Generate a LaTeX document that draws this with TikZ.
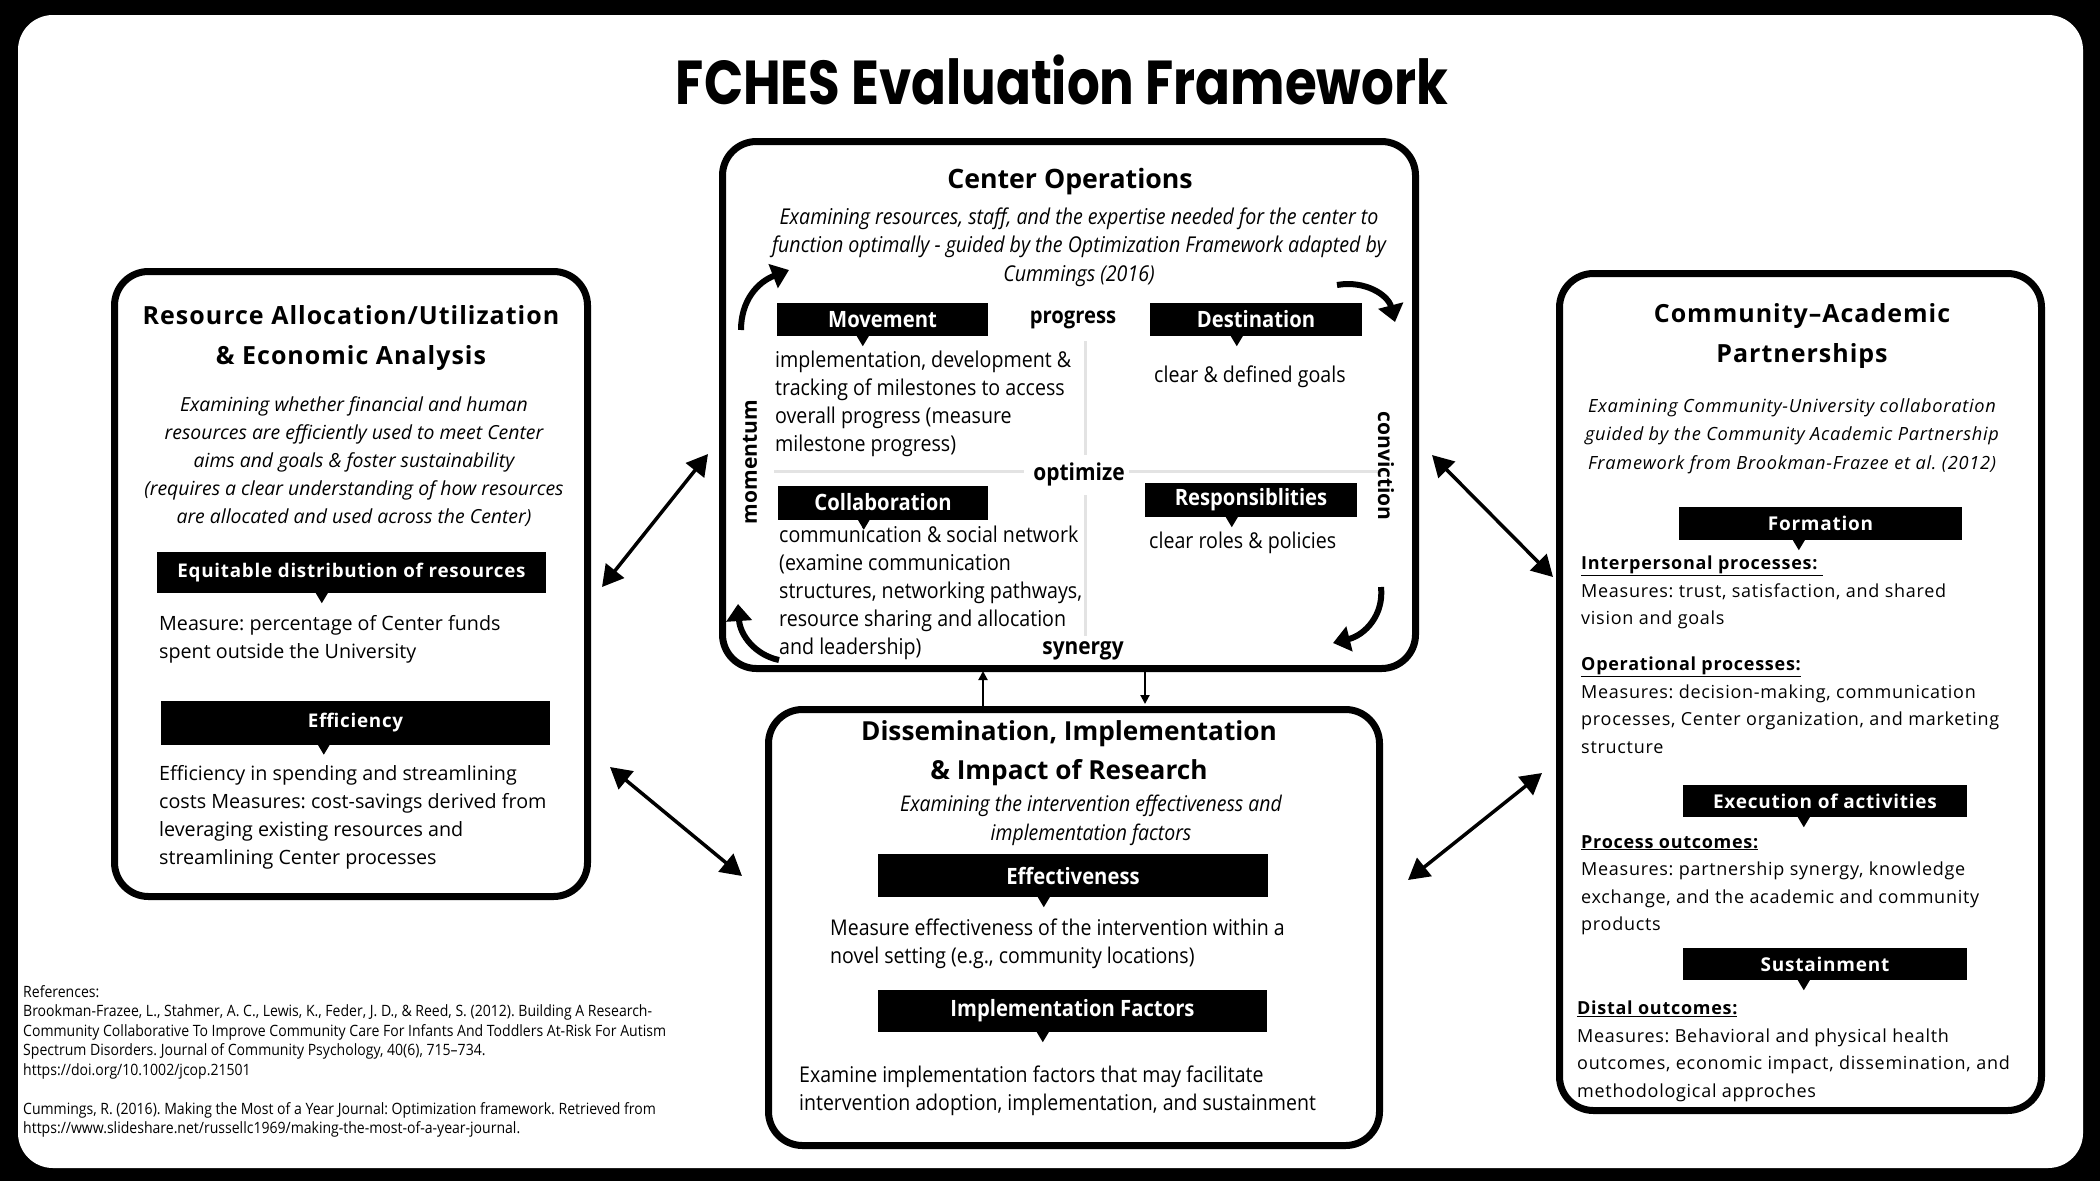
\documentclass[tikz,border=0pt]{standalone}
\usepackage{fontspec}
\setmainfont{Open Sans}
\newfontfamily\condfont{Open Sans}[FakeStretch=0.9]
\newfontfamily\widefont{Open Sans}[LetterSpace=4]
\newfontfamily\headfont{Poppins}[FakeStretch=0.83]
\usetikzlibrary{arrows.meta}
\frenchspacing

\definecolor{gridgrey}{HTML}{E3E3E3}

\tikzset{
  panel/.style={draw, line width=7pt, rounded corners=34pt, inner sep=0pt},
  tagbox/.style={fill=black, text=white, inner sep=0pt},
  linkarrow/.style={line width=3.5pt, {Triangle[length=21pt,width=23pt]}-{Triangle[length=21pt,width=23pt]}},
  cyclearrow/.style={line width=6pt, -{Triangle[length=17pt,width=25pt]}},
  minorarrow/.style={line width=2pt, -{Triangle[length=9pt,width=9pt]}},
  gridline/.style={line width=3pt, gridgrey},
}

% pointer under a black tag: node name, offset from its left edge
\newcommand{\tagtip}[2]{\fill ([xshift=#2]#1.south west) ++(-6,0) -- ++(12,0) -- ++(-6,10) -- cycle;}

\begin{document}
\begin{tikzpicture}[x=1pt,y=1pt,yscale=-1,xscale=1]
\useasboundingbox (0,0) rectangle (2100,1181);

%Shape: Rectangle [id:background]
\fill (0,0) rectangle (2100,1181);
%Shape: Rounded Rect [id:sheet]
\fill [white, rounded corners=35pt] (18,15) rectangle (2083,1168);

% Text Node
\draw (1062,80) node [inner sep=0pt, font=\headfont\bfseries\fontsize{62}{66}\selectfont] (title) {FCHES Evaluation Framework};

%Shape: Panels
\draw (351,584) node [panel, minimum width=473pt, minimum height=625pt] (res) {};
\draw (1069,405) node [panel, minimum width=693pt, minimum height=527pt] (ops) {};
\draw (1074,927.5) node [panel, minimum width=611pt, minimum height=436pt] (dis) {};
\draw (1800.5,692) node [panel, minimum width=482pt, minimum height=837pt] (cap) {};

%%% Resource Allocation panel
% Text Node
\draw (351,338) node [inner sep=0pt, align=center, font=\widefont\bfseries\fontsize{25}{40}\selectfont] (restitle) {Resource Allocation/Utilization\\\& Economic Analysis};
% Text Node
\draw (354,462) node [inner sep=0pt, align=center, font=\itshape\fontsize{19.4}{28}\selectfont] (resdesc) {Examining whether financial and human\\resources are efficiently used to meet Center\\aims and goals \& foster sustainability\\(requires a clear understanding of how resources\\are allocated and used across the Center)};
%Shape: Tags
\draw (351.5,572.5) node [tagbox, minimum width=389pt, minimum height=41pt, font=\widefont\bfseries\fontsize{18.8}{20}\selectfont] (eqd) {Equitable distribution of resources};
\tagtip{eqd}{165pt}
\draw (355.5,722.5) node [tagbox, minimum width=389pt, minimum height=44pt, font=\widefont\bfseries\fontsize{18.8}{20}\selectfont] (eff) {Efficiency};
\tagtip{eff}{163pt}
% Text Node
\draw (159,639) node [anchor=west, inner sep=0pt, align=left, font=\fontsize{19.7}{28}\selectfont] (eqdtext) {Measure: percentage of Center funds\\spent outside the University};
% Text Node
\draw (159,817) node [anchor=west, inner sep=0pt, align=left, font=\fontsize{19.7}{28}\selectfont] (efftext) {Efficiency in spending and streamlining\\costs Measures: cost-savings derived from\\leveraging existing resources and\\streamlining Center processes};

%%% Center Operations panel
% Text Node
\draw (1070,182) node [inner sep=0pt, font=\bfseries\fontsize{26.7}{30}\selectfont] (opstitle) {Center Operations};
% Text Node
\draw (1079,247) node [inner sep=0pt, align=center, font=\condfont\itshape\fontsize{21.8}{28.5}\selectfont] (opsdesc) {Examining resources, staff, and the expertise needed for the center to\\function optimally - guided by the Optimization Framework adapted by\\Cummings (2016)};
%Straight Lines [id:grid]
\draw [gridline] (1085,341) -- (1085,455);
\draw [gridline] (1085,495) -- (1085,636);
\draw [gridline] (774,471) -- (1024,471);
\draw [gridline] (1129,471) -- (1379,471);
%Shape: Tags
\draw (882.5,319.5) node [tagbox, minimum width=211pt, minimum height=33pt, font=\condfont\bfseries\fontsize{22.5}{24}\selectfont] (mov) {Movement};
\tagtip{mov}{86pt}
\draw (1256,319.5) node [tagbox, minimum width=212pt, minimum height=33pt, font=\condfont\bfseries\fontsize{22.5}{24}\selectfont] (dst) {Destination};
\tagtip{dst}{87pt}
\draw (883,502.5) node [tagbox, minimum width=210pt, minimum height=34pt, font=\condfont\bfseries\fontsize{22.5}{24}\selectfont] (col) {Collaboration};
\tagtip{col}{86pt}
\draw (1251,500) node [tagbox, minimum width=212pt, minimum height=34pt, font=\condfont\bfseries\fontsize{22.5}{24}\selectfont] (rsp) {Responsiblities};
\tagtip{rsp}{87pt}
% Text Node
\draw (775,404) node [anchor=west, inner sep=0pt, align=left, font=\condfont\fontsize{21.8}{28}\selectfont] (movtext) {implementation, development \&\\tracking of milestones to access\\overall progress (measure\\milestone progress)};
% Text Node
\draw (1154,377) node [anchor=west, inner sep=0pt, font=\condfont\fontsize{21.8}{28}\selectfont] (dsttext) {clear \& defined goals};
% Text Node
\draw (779,593) node [anchor=west, inner sep=0pt, align=left, font=\condfont\fontsize{21.8}{28}\selectfont] (coltext) {communication \& social network\\(examine communication\\structures, networking pathways,\\resource sharing and allocation\\and leadership)};
% Text Node
\draw (1149,543) node [anchor=west, inner sep=0pt, font=\condfont\fontsize{21.8}{28}\selectfont] (rsptext) {clear roles \& policies};
% Text Node
\draw (1073,320) node [inner sep=0pt, font=\condfont\bfseries\fontsize{22.5}{24}\selectfont] (progress) {progress};
\draw (1079,474) node [inner sep=0pt, font=\condfont\bfseries\fontsize{23.3}{24}\selectfont] (optimize) {optimize};
\draw (1083,651) node [inner sep=0pt, font=\condfont\bfseries\fontsize{23.2}{24}\selectfont] (synergy) {synergy};
\draw (750,462) node [inner sep=0pt, rotate=90, font=\bfseries\fontsize{21}{24}\selectfont] (momentum) {momentum};
\draw (1386,466) node [inner sep=0pt, rotate=-90, font=\bfseries\fontsize{21}{24}\selectfont] (conviction) {conviction};
%Curve Lines [id:cycle]
\draw [cyclearrow] (741,330) .. controls (741,300) and (758,282) .. (789,270);
\draw [cyclearrow] (1337,285) .. controls (1365,280) and (1388,295) .. (1395,322);
\draw [cyclearrow] (1381,587) .. controls (1384,615) and (1365,635) .. (1333,643);
\draw [cyclearrow] (779,660) .. controls (755,655) and (740,635) .. (738,604);

%%% Dissemination panel
% Text Node
\draw (1069,753.5) node [inner sep=0pt, align=center, font=\bfseries\fontsize{26.2}{39}\selectfont] (distitle) {Dissemination, Implementation\\\& Impact of Research};
% Text Node
\draw (1091,820.5) node [inner sep=0pt, align=center, font=\condfont\itshape\fontsize{21.6}{28.5}\selectfont] (disdesc) {Examining the intervention effectiveness and\\implementation factors};
%Shape: Tags
\draw (1073,875.5) node [tagbox, minimum width=390pt, minimum height=43pt, font=\condfont\bfseries\fontsize{22.5}{24}\selectfont] (effv) {Effectiveness};
\tagtip{effv}{166pt}
\draw (1072.5,1011) node [tagbox, minimum width=389pt, minimum height=42pt, font=\condfont\bfseries\fontsize{22.5}{24}\selectfont] (impf) {Implementation Factors};
\tagtip{impf}{165pt}
% Text Node
\draw (830,944) node [anchor=west, inner sep=0pt, align=left, font=\condfont\fontsize{21.7}{28}\selectfont] (effvtext) {Measure effectiveness of the intervention within a\\novel setting (e.g., community locations)};
% Text Node
\draw (799,1091) node [anchor=west, inner sep=0pt, align=left, font=\condfont\fontsize{21.7}{28}\selectfont] (impftext) {Examine implementation factors that may facilitate\\intervention adoption, implementation, and sustainment};

%%% Community-Academic panel
% Text Node
\draw (1802,336) node [inner sep=0pt, align=center, font=\widefont\bfseries\fontsize{25}{40}\selectfont] (captitle) {Community–Academic\\Partnerships};
% Text Node
\draw (1792,436) node [inner sep=0pt, align=center, font=\widefont\itshape\fontsize{18.2}{28.5}\selectfont] (capdesc) {Examining Community-University collaboration\\guided by the Community Academic Partnership\\Framework from Brookman-Frazee et al. (2012)};
%Shape: Tags
\draw (1820.5,523.5) node [tagbox, minimum width=283pt, minimum height=33pt, font=\widefont\bfseries\fontsize{19}{20}\selectfont] (frm) {Formation};
\tagtip{frm}{120pt}
\draw (1825,801) node [tagbox, minimum width=284pt, minimum height=32pt, font=\widefont\bfseries\fontsize{19}{20}\selectfont] (exe) {Execution of activities};
\tagtip{exe}{121pt}
\draw (1825,964) node [tagbox, minimum width=284pt, minimum height=32pt, font=\widefont\bfseries\fontsize{19}{20}\selectfont] (sus) {Sustainment};
\tagtip{sus}{121pt}
% Text Node
\draw (1581,592.5) node [anchor=west, inner sep=0pt, align=left, font=\widefont\fontsize{18}{27.5}\selectfont] (interp) {\textbf{\underline{Interpersonal processes:\ }}\\Measures: trust, satisfaction, and shared\\vision and goals};
% Text Node
\draw (1581,705) node [anchor=west, inner sep=0pt, align=left, font=\widefont\fontsize{18}{27.5}\selectfont] (operat) {\textbf{\underline{Operational processes:}}\\Measures: decision-making, communication\\processes, Center organization, and marketing\\structure};
% Text Node
\draw (1581,885) node [anchor=west, inner sep=0pt, align=left, font=\widefont\fontsize{18}{27.5}\selectfont] (procout) {\textbf{\underline{Process outcomes:}}\\Measures: partnership synergy, knowledge\\exchange, and the academic and community\\products};
% Text Node
\draw (1577,1051.5) node [anchor=west, inner sep=0pt, align=left, font=\widefont\fontsize{18}{27.5}\selectfont] (distal) {\textbf{\underline{Distal outcomes:}}\\Measures: Behavioral and physical health\\outcomes, economic impact, dissemination, and\\methodological approches};

%%% Links between panels
\coordinate (resA) at (602,587);
\coordinate (opsA) at (708,454);
\coordinate (resB) at (610,767);
\coordinate (disB) at (742,876);
\coordinate (opsC) at (1432,455);
\coordinate (capC) at (1553,577);
\coordinate (capD) at (1542,773);
\coordinate (disD) at (1408,880);
\coordinate (upx) at (983,0);
\coordinate (downx) at (1145,0);
%Straight Lines [id:links]
\draw [linkarrow] (resA) -- (opsA);
\draw [linkarrow] (resB) -- (disB);
\draw [linkarrow] (opsC) -- (capC);
\draw [linkarrow] (capD) -- (disD);
\draw [minorarrow] (dis.north -| upx) -- ([yshift=-1pt]ops.south -| upx);
\draw [minorarrow] (ops.south -| downx) -- ([yshift=-2pt]dis.north -| downx);

% Text Node
\draw (23,1061.5) node [anchor=west, inner sep=0pt, align=left, font=\condfont\fontsize{15.6}{19.5}\selectfont] (refs) {References:\\Brookman-Frazee, L., Stahmer, A. C., Lewis, K., Feder, J. D., \& Reed, S. (2012). Building A Research-\\Community Collaborative To Improve Community Care For Infants And Toddlers At-Risk For Autism\\Spectrum Disorders. Journal of Community Psychology, 40(6), 715–734.\\https://doi.org/10.1002/jcop.21501\\[19.5pt]Cummings, R. (2016). Making the Most of a Year Journal: Optimization framework. Retrieved from\\https://www.slideshare.net/russellc1969/making-the-most-of-a-year-journal.};

\end{tikzpicture}
\end{document}
